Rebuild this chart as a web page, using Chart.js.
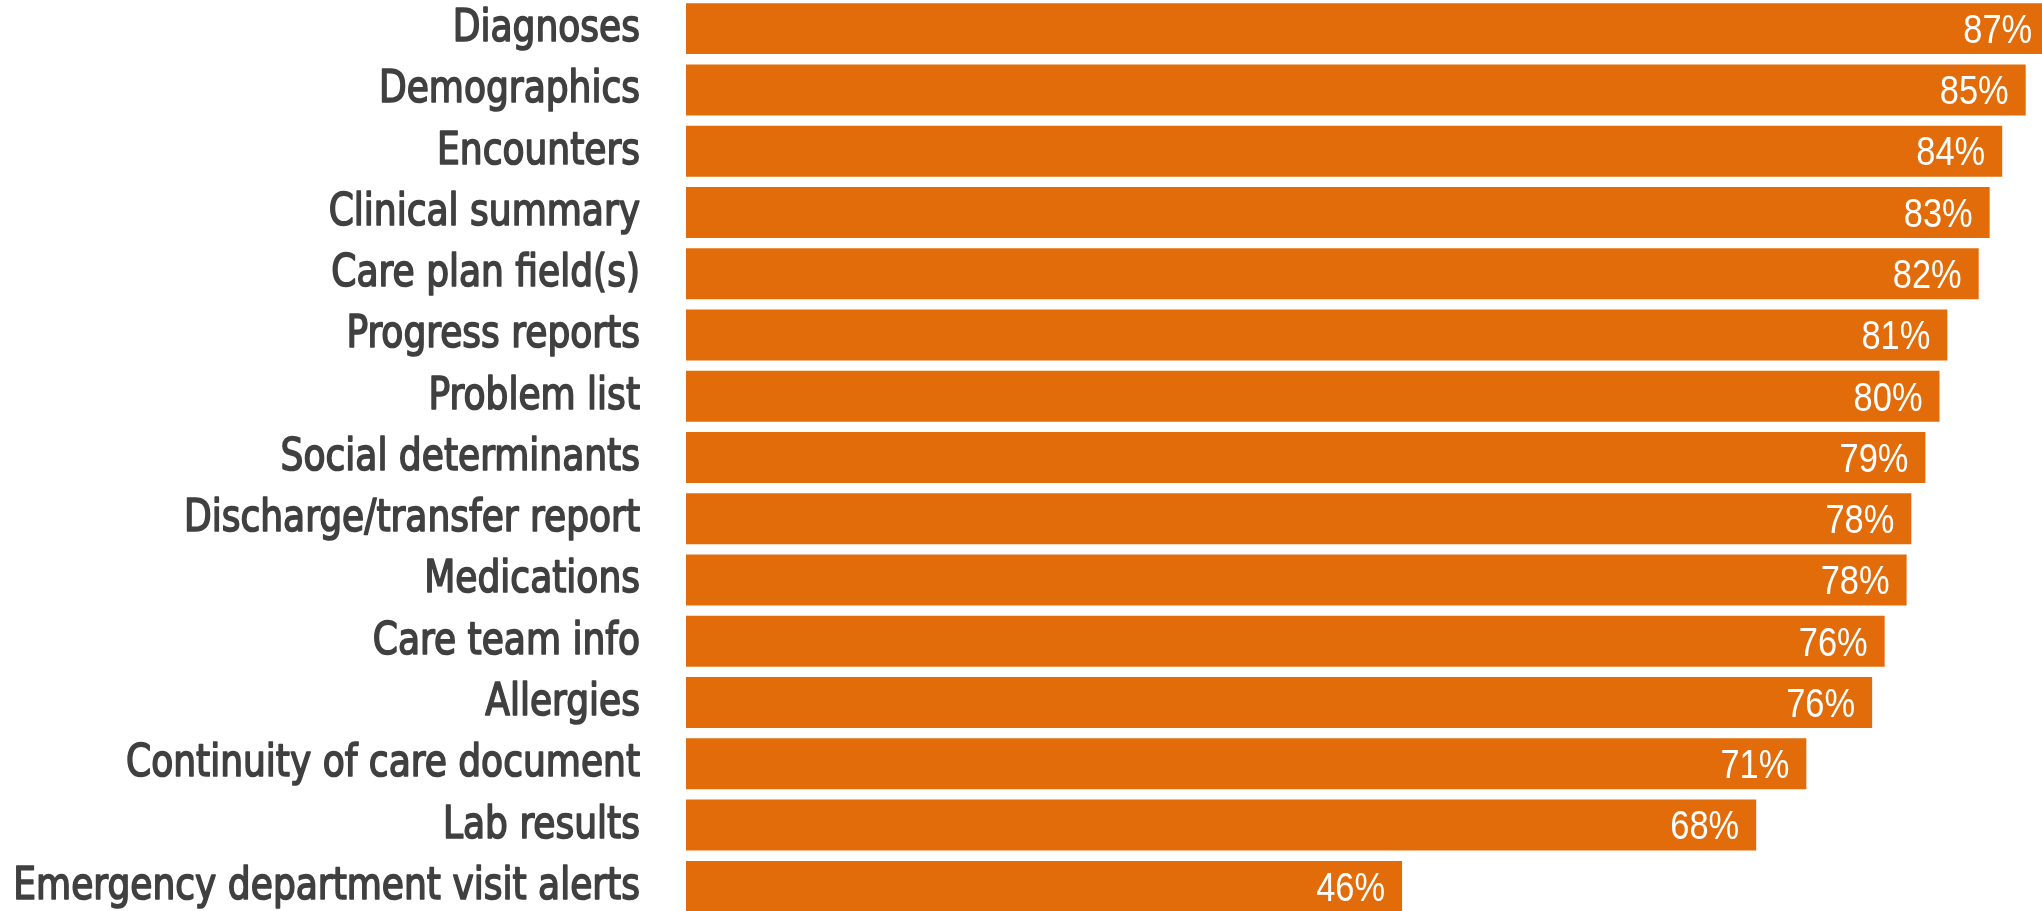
<!DOCTYPE html>
<html>
<head>
<meta charset="utf-8">
<script src="https://cdn.jsdelivr.net/npm/chart.js@4/dist/chart.umd.min.js"></script>
<style>
  html, body { margin: 0; padding: 0; background: #fff; overflow: hidden; }
  #bars { position: absolute; left: 0; top: -2px; }
</style>
</head>
<body>
<canvas id="bars" width="2042" height="919"></canvas>
<script>
// categories, top to bottom
const categories = [
  'Diagnoses', 'Demographics', 'Encounters', 'Clinical summary',
  'Care plan field(s)', 'Progress reports', 'Problem list',
  'Social determinants', 'Discharge/transfer report', 'Medications',
  'Care team info', 'Allergies', 'Continuity of care document',
  'Lab results', 'Emergency department visit alerts'
];
// bar lengths (percent)
const shares = [87.0, 85.5, 84.0, 83.2, 82.5, 80.5, 80.0, 79.1, 78.2, 77.9, 76.5, 75.7, 71.5, 68.3, 45.7];
// printed value labels
const shareLabels = ['87%', '85%', '84%', '83%', '82%', '81%', '80%', '79%', '78%', '78%', '76%', '76%', '71%', '68%', '46%'];

const orange = '#E36C0A';
const labelGrey = '#404040';

// pick a condensed face if the machine has one
function hasFont(name) {
  const c = document.createElement('canvas').getContext('2d');
  c.font = '40px monospace';
  const w0 = c.measureText('Diagnoses mm').width;
  c.font = '40px "' + name + '", monospace';
  return c.measureText('Diagnoses mm').width !== w0;
}
const condensed = hasFont('DejaVu Sans Condensed');
const catFont = condensed ? '44px "DejaVu Sans Condensed"' : '44px "Liberation Sans"';
const catSqueeze = condensed ? 0.91 : 0.86;

// category names, drawn narrow and a bit heavy like the original
const categoryLabels = {
  id: 'categoryLabels',
  afterDraw(chart) {
    const ctx = chart.ctx;
    const y = chart.scales.y;
    ctx.save();
    ctx.font = catFont;
    ctx.fillStyle = labelGrey;
    ctx.strokeStyle = labelGrey;
    ctx.lineWidth = 1.6;
    ctx.lineJoin = 'round';
    ctx.textAlign = 'right';
    ctx.textBaseline = 'middle';
    categories.forEach((name, i) => {
      ctx.save();
      ctx.translate(y.right - 46, y.getPixelForTick(i) + 1);
      ctx.scale(catSqueeze, 1);
      ctx.fillText(name, 0, 0);
      ctx.strokeText(name, 0, 0);
      ctx.restore();
    });
    ctx.restore();
  }
};

// white value label inside the end of each bar
const valueLabels = {
  id: 'valueLabels',
  afterDatasetsDraw(chart) {
    const ctx = chart.ctx;
    const meta = chart.getDatasetMeta(0);
    ctx.save();
    ctx.fillStyle = '#ffffff';
    ctx.font = '41px "Liberation Sans"';
    ctx.textAlign = 'right';
    ctx.textBaseline = 'middle';
    meta.data.forEach((bar, i) => {
      ctx.save();
      ctx.translate(bar.x - 17, bar.y + 3);
      ctx.scale(0.84, 1);
      ctx.fillText(shareLabels[i], 0, 0);
      ctx.restore();
    });
    ctx.restore();
  }
};

new Chart(document.getElementById('bars').getContext('2d'), {
  type: 'bar',
  data: {
    labels: categories,
    datasets: [{
      data: shares,
      backgroundColor: orange,
      borderWidth: 0,
      categoryPercentage: 1,
      barPercentage: 0.832
    }]
  },
  options: {
    indexAxis: 'y',
    responsive: false,
    animation: false,
    layout: { padding: 0 },
    plugins: { legend: { display: false }, tooltip: { enabled: false } },
    scales: {
      x: { display: false, min: 0, max: 86.54 },
      y: {
        grid: { display: false, drawTicks: false },
        border: { display: false },
        ticks: { display: false, autoSkip: false },
        afterFit(scale) {
          scale.width = 686;
          scale.paddingTop = 0;
          scale.paddingBottom = 0;
        }
      }
    }
  },
  plugins: [valueLabels, categoryLabels]
});
</script>
</body>
</html>
